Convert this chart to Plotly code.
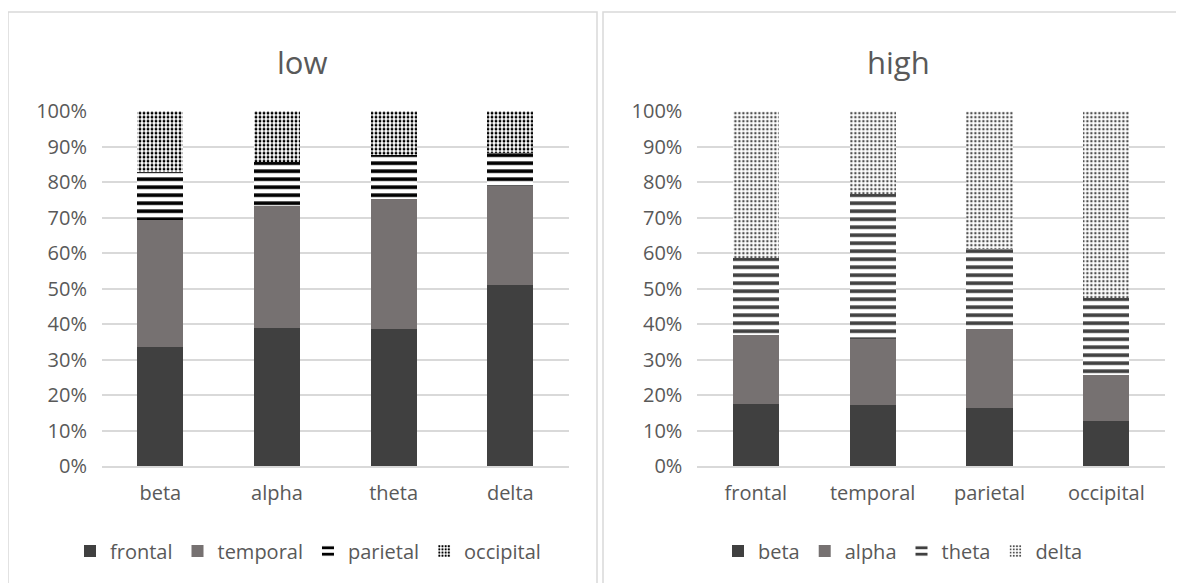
import plotly.graph_objects as go
from plotly.subplots import make_subplots

# values (percent of each bar)
low_categories = ["beta", "alpha", "theta", "delta"]
low_frontal = [33.6, 39.0, 38.6, 51.2]
low_temporal = [35.9, 34.3, 36.6, 27.8]
low_parietal = [13.5, 12.3, 12.5, 9.1]
low_occipital = [17.0, 14.4, 12.3, 11.9]

high_categories = ["frontal", "temporal", "parietal", "occipital"]
high_beta = [17.7, 17.3, 16.3, 12.7]
high_alpha = [19.2, 18.6, 22.3, 13.0]
high_theta = [21.7, 40.9, 22.6, 21.8]
high_delta = [41.4, 23.2, 38.8, 52.5]

# page body has an 8px margin, so the figure sits at (8, 8)
OFF = 8
W, H = 1184 - OFF, 583 - OFF
text_color = "#595959"
grid_color = "#d9d9d9"


def px_x(v):
    return (v - OFF) / W


def px_y(v):
    return (583 - v) / H


def bar_style(kind, fg, dot_solid=0.4):
    if kind == "solid":
        return dict(color=fg, line=dict(width=0))
    if kind == "stripes":
        return dict(color="white", line=dict(width=0),
                    pattern=dict(shape="-", fgcolor=fg, bgcolor="white",
                                 fgopacity=1, size=8, solidity=0.45))
    return dict(color="white", line=dict(width=0),
                pattern=dict(shape=".", fgcolor=fg, bgcolor="white",
                             fgopacity=1, size=4, solidity=dot_solid))


fig = make_subplots(rows=1, cols=2)

# left chart: low
low_series = [
    ("frontal", low_frontal, "solid", "#404040"),
    ("temporal", low_temporal, "solid", "#767171"),
    ("parietal", low_parietal, "stripes", "#000000"),
    ("occipital", low_occipital, "dots", "#000000"),
]
for name, vals, kind, fg in low_series:
    fig.add_trace(go.Bar(x=low_categories, y=vals, name=name,
                         marker=bar_style(kind, fg, 0.4), legend="legend"),
                  row=1, col=1)

# right chart: high
high_series = [
    ("beta", high_beta, "solid", "#404040"),
    ("alpha", high_alpha, "solid", "#767171"),
    ("theta", high_theta, "stripes", "#404040"),
    ("delta", high_delta, "dots", "#505050"),
]
for name, vals, kind, fg in high_series:
    fig.add_trace(go.Bar(x=high_categories, y=vals, name=name,
                         marker=bar_style(kind, fg, 0.3), legend="legend2"),
                  row=1, col=2)

yax = dict(range=[0, 100], dtick=10, ticksuffix="%", showgrid=True,
           gridcolor=grid_color, gridwidth=1.5, zeroline=False,
           showline=False, ticks="", ticklabelstandoff=14, automargin=False,
           tickfont=dict(size=20, color=text_color),
           domain=[px_y(466.4), px_y(111.2)])
xax = dict(showline=True, linecolor=grid_color, linewidth=1.5, ticks="",
           showgrid=False, tickfont=dict(size=20, color=text_color),
           ticklabelstandoff=8, automargin=False)

legend_common = dict(orientation="h", xanchor="center", yanchor="middle",
                     traceorder="normal", itemwidth=30,
                     font=dict(size=20, color=text_color),
                     bgcolor="rgba(0,0,0,0)", y=px_y(551))

fig.update_layout(
    width=W, height=H, autosize=False,
    margin=dict(l=0, r=0, t=0, b=0, autoexpand=False),
    paper_bgcolor="white", plot_bgcolor="white",
    font=dict(family="Open Sans", color=text_color, size=20),
    barmode="stack", bargap=0.605,
    showlegend=True,
    xaxis=dict(xax, domain=[px_x(102), px_x(568.6)]),
    xaxis2=dict(xax, domain=[px_x(697.4), px_x(1164.7)]),
    yaxis=yax, yaxis2=yax,
    legend=dict(legend_common, x=px_x(308)),
    legend2=dict(legend_common, x=px_x(903)),
    hovermode=False,
)

# chart titles
for txt, cx in [("low", 302), ("high", 898)]:
    fig.add_annotation(text=txt, x=px_x(cx), y=px_y(62), xref="paper", yref="paper",
                       xanchor="center", yanchor="middle", showarrow=False,
                       font=dict(size=31, color=text_color))

# chart area borders
for x0, x1 in [(8, 597), (603, 1200)]:
    fig.add_shape(type="rect", xref="paper", yref="paper",
                  x0=px_x(x0), x1=px_x(x1), y0=-0.05, y1=px_y(12),
                  line=dict(color=grid_color, width=1.5), fillcolor="rgba(0,0,0,0)",
                  layer="below")

fig.write_html("out.html")
